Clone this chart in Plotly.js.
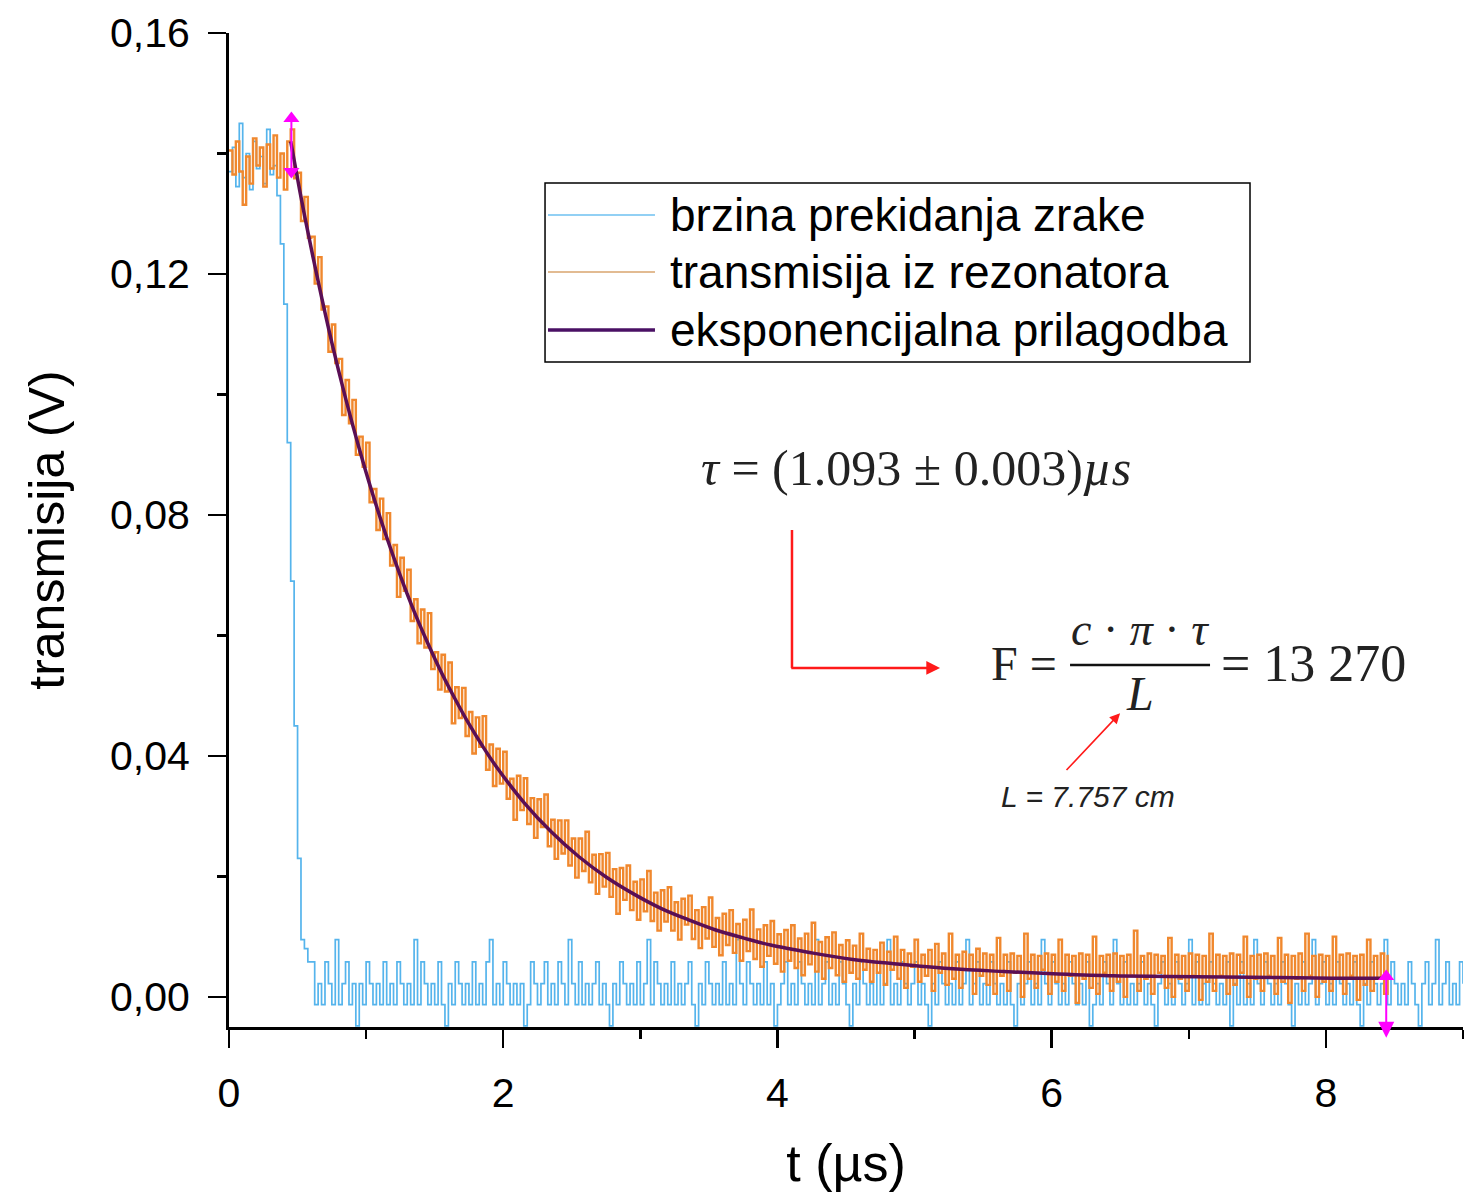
<!DOCTYPE html>
<html>
<head>
<meta charset="utf-8">
<script src="https://cdn.plot.ly/plotly-3.0.1.min.js"></script>
<style>html,body{margin:0;padding:0;background:#fff}#chart{width:1468px;height:1192px}</style>
</head>
<body>
<div id="chart"></div>
<script>
// ---- data ----
const sampleStart = 0;      // µs
const sampleStep = 0.025;   // µs between samples

// blue: brzina prekidanja zrake (V)
const beamCutY = [
0.1370,0.1410,0.1345,0.1450,0.1360,0.1400,0.1340,0.1420,0.1375,0.1395,0.1350,0.1440,0.1365,0.1380,
0.1330,0.1250,0.1150,0.0920,0.0690,0.0450,0.0230,0.0095,0.0080,0.0058,
0.0058,-0.0013,0.0022,-0.0013,0.0058,0.0022,-0.0013,0.0095,-0.0013,0.0022,0.0058,-0.0013,0.0022,-0.0048,0.0022,-0.0013,0.0058,0.0022,-0.0013,0.0022,
-0.0013,0.0058,-0.0013,0.0022,-0.0013,0.0058,0.0022,-0.0013,0.0022,-0.0013,0.0095,-0.0013,0.0058,0.0022,-0.0013,0.0022,-0.0013,0.0058,-0.0013,-0.0048,
0.0022,-0.0013,0.0058,0.0022,-0.0013,0.0022,-0.0013,0.0058,-0.0013,0.0022,-0.0013,0.0058,0.0095,-0.0013,0.0022,-0.0013,0.0058,0.0022,-0.0013,0.0022,
-0.0013,0.0022,-0.0048,-0.0013,0.0058,0.0022,-0.0013,0.0022,0.0058,-0.0013,0.0022,-0.0013,0.0058,0.0022,-0.0013,0.0095,0.0022,-0.0013,0.0058,-0.0013,
0.0022,-0.0013,0.0022,0.0058,-0.0013,0.0022,-0.0013,-0.0048,0.0022,-0.0013,0.0058,0.0022,-0.0013,0.0022,-0.0013,0.0058,-0.0013,0.0022,0.0095,-0.0013,
0.0058,0.0022,-0.0013,0.0022,-0.0013,0.0058,-0.0013,0.0022,-0.0013,0.0022,0.0058,-0.0013,-0.0048,0.0022,-0.0013,0.0058,0.0022,-0.0013,0.0022,-0.0013,
0.0058,-0.0013,0.0022,-0.0013,0.0095,0.0022,-0.0013,0.0058,0.0022,-0.0013,0.0022,-0.0013,0.0058,-0.0013,0.0022,-0.0048,-0.0013,0.0022,0.0058,-0.0013,
0.0022,-0.0013,0.0058,0.0022,-0.0013,0.0022,-0.0013,0.0095,-0.0013,0.0022,0.0058,-0.0013,0.0022,-0.0013,0.0058,0.0022,-0.0013,-0.0048,0.0022,-0.0013,
0.0058,0.0022,-0.0013,0.0022,-0.0013,0.0058,-0.0013,0.0022,0.0095,-0.0013,0.0022,-0.0013,0.0058,0.0022,-0.0013,0.0022,0.0058,-0.0013,0.0022,-0.0013,
-0.0048,0.0022,-0.0013,0.0058,0.0022,-0.0013,0.0022,-0.0013,0.0058,-0.0013,0.0022,0.0095,-0.0013,0.0022,0.0058,-0.0013,0.0022,-0.0013,0.0058,0.0022,
-0.0013,0.0022,-0.0013,0.0058,-0.0013,-0.0048,0.0022,-0.0013,0.0022,0.0058,-0.0013,0.0022,-0.0013,0.0095,0.0022,-0.0013,0.0058,0.0022,-0.0013,0.0022,
-0.0013,0.0058,0.0022,-0.0013,0.0022,-0.0013,0.0058,-0.0048,-0.0013,0.0022,-0.0013,0.0058,0.0022,-0.0013,0.0095,0.0022,-0.0013,0.0058,-0.0013,0.0022,
-0.0013,0.0022,0.0058,-0.0013,0.0022,-0.0013,-0.0048,0.0022,0.0058,-0.0013,0.0022,-0.0013,0.0058,0.0022,-0.0013,0.0022,0.0095,-0.0013,0.0058,-0.0013,
0.0022,-0.0013,0.0058,0.0022,-0.0013,0.0022,-0.0013,0.0058,-0.0048,0.0022,-0.0013,0.0058,-0.0013,0.0022,-0.0013,0.0095,0.0022,-0.0013,0.0058,0.0022,
-0.0013,0.0022,-0.0013,0.0058,0.0022,-0.0013,-0.0048,0.0022,-0.0013,0.0058,-0.0013,0.0022,0.0095,-0.0013,0.0022,0.0058,-0.0013,0.0022,-0.0013,0.0058,
0.0022,-0.0013,0.0022,-0.0013,0.0058,-0.0013,-0.0048,0.0022,-0.0013,0.0058,0.0022,-0.0013,0.0022,0.0095,-0.0013,0.0058,0.0022,-0.0013,0.0022,-0.0013,
0.0058,0.0022,-0.0013,-0.0048,0.0022,0.0058,-0.0013,0.0022,0.0095,-0.0013,0.0022,0.0058,-0.0013,0.0022,-0.0013,0.0058,0.0022
];

// orange: transmisija iz rezonatora (V)
const transmissionY = [
0.1405,0.1365,0.1420,0.1370,0.1315,0.1395,0.1350,0.1425,0.1380,0.1410,0.1345,0.1415,0.1375,0.1430,0.1360,0.1400,0.1340,0.1420,
0.1440,0.1359,0.1368,0.1288,0.1328,0.1260,0.1262,0.1184,0.1228,0.1141,
0.1146,0.1071,0.1116,0.1052,0.1059,0.0966,0.1024,0.0952,0.0991,0.0900,
0.0930,0.0880,0.0920,0.0821,0.0843,0.0775,0.0827,0.0760,0.0803,0.0716,
0.0750,0.0664,0.0729,0.0674,0.0709,0.0624,0.0660,0.0587,0.0643,0.0580,
0.0637,0.0544,0.0572,0.0510,0.0568,0.0507,0.0555,0.0454,0.0514,0.0463,
0.0513,0.0433,0.0473,0.0404,0.0464,0.0415,0.0466,0.0377,0.0419,0.0350,
0.0412,0.0354,0.0407,0.0329,0.0362,0.0294,0.0367,0.0310,0.0363,0.0287,
0.0330,0.0264,0.0328,0.0282,0.0336,0.0250,0.0294,0.0229,0.0293,0.0238,
0.0293,0.0218,0.0263,0.0198,0.0263,0.0209,0.0274,0.0190,0.0236,0.0171,
0.0237,0.0183,0.0239,0.0166,0.0212,0.0138,0.0214,0.0161,0.0218,0.0144,
0.0191,0.0128,0.0195,0.0142,0.0209,0.0126,0.0173,0.0110,0.0177,0.0125,
0.0182,0.0110,0.0157,0.0095,0.0163,0.0120,0.0168,0.0096,0.0144,0.0081,
0.0149,0.0097,0.0165,
0.0083,0.0131,0.0069,0.0138,0.0086,0.0144,0.0073,0.0121,0.0060,0.0128,
0.0076,0.0145,0.0063,0.0112,0.0050,0.0119,0.0068,0.0126,0.0055,0.0104,
0.0042,0.0111,0.0060,0.0119,0.0048,0.0097,0.0036,0.0105,0.0054,0.0123,
0.0042,0.0091,0.0030,0.0099,0.0048,0.0107,0.0036,0.0086,0.0025,0.0094,
0.0040,0.0085,0.0030,0.0105,0.0045,0.0080,0.0025,0.0078,0.0040,0.0090,
0.0020,0.0075,0.0045,0.0100,0.0030,0.0078,0.0015,0.0072,0.0050,0.0095,
0.0025,0.0070,0.0035,0.0078,0.0010,0.0088,0.0040,0.0072,0.0020,0.0105,
0.0030,0.0070,0.0015,0.0075,0.0045,0.0070,0.0005,0.0080,0.0035,0.0072,
0.0020,0.0070,0.0005,0.0098,0.0035,0.0070,0.0010,0.0072,0.0040,0.0068,
0.0000,0.0105,0.0030,0.0070,0.0015,0.0068,0.0045,0.0072,0.0005,0.0070,
0.0025,0.0095,0.0010,0.0070,0.0035,0.0068,-0.0010,0.0072,0.0030,0.0070,
0.0015,0.0100,0.0005,0.0068,0.0040,0.0070,0.0010,0.0072,0.0025,0.0068,
0.0000,0.0070,0.0035,0.0110,0.0010,0.0068,0.0030,0.0072,0.0005,0.0070,
0.0040,0.0068,0.0015,0.0098,0.0000,0.0070,0.0030,0.0068,0.0010,0.0072,
0.0035,0.0070,-0.0005,0.0068,0.0025,0.0105,0.0010,0.0070,0.0035,0.0068,
0.0005,0.0072,0.0020,0.0070,0.0040,0.0100,0.0000,0.0068,0.0030,0.0070,
0.0010,0.0072,0.0035,0.0068,0.0005,0.0098,0.0025,0.0070,-0.0010,0.0068,
0.0030,0.0072,0.0010,0.0105,0.0035,0.0068,0.0000,0.0070,0.0025,0.0068,
0.0010,0.0100,0.0030,0.0070,0.0005,0.0072,0.0035,0.0068,-0.0005,0.0070,
0.0020,0.0095,0.0010,0.0068,0.0030,0.0072,0.0005,0.0070
];

// purple: eksponencijalna prilagodba
const fitX = [0.45,0.5,0.55,0.65,0.75,0.85,0.95,1.05,1.15,1.25,1.35,1.45,1.55,1.65,1.75,1.85,1.95,2.15,2.35,2.55,2.75,2.95,3.15,3.35,3.55,3.75,3.95,4.25,4.55,4.85,5.25,5.65,6.05,6.45,6.85,7.25,7.65,8.05,8.44];
const fitY = [0.1420,0.1358,0.1298,0.1188,0.1086,0.0994,0.0910,0.0833,0.0763,0.0699,0.0640,0.0587,0.0538,0.0494,0.0453,0.0416,0.0382,0.0323,0.0274,0.0233,0.0199,0.0171,0.0147,0.0128,0.0111,0.0098,0.0086,0.0073,0.0062,0.0055,0.0047,0.0042,0.0038,0.0035,0.0034,0.0033,0.0032,0.0031,0.0031];

// fit range markers (magenta)
const rangeStartX = [0.455, 0.455];
const rangeStartY = [0.1370, 0.1458];
const rangeEndX = [8.44];
const rangeEndTopY = [0.0034];
const rangeEndBottomY = -0.0068;

// legend / labels
const seriesNames = ['brzina prekidanja zrake', 'transmisija iz rezonatora', 'eksponencijalna prilagodba'];
const seriesColors = ['#55B4EC', '#F0882E', '#5A0F55'];
const yTickVals = [0, 0.04, 0.08, 0.12, 0.16];
const xTickVals = [0, 2, 4, 6, 8];

// ---- chart ----
const SANS = 'Liberation Sans, Arial, sans-serif';
const SERIF = 'Liberation Serif, Times New Roman, serif';
const MAGENTA = '#FF00FF';

const traces = [
  {type:'scatter', mode:'lines', name:seriesNames[0], x0:sampleStart, dx:sampleStep, y:beamCutY,
   line:{color:seriesColors[0], width:1.7, shape:'hv'}, showlegend:false},
  {type:'scatter', mode:'lines', name:seriesNames[1], x0:sampleStart, dx:sampleStep, y:transmissionY,
   line:{color:seriesColors[1], width:2.4, shape:'hv'}, showlegend:false},
  {type:'scatter', mode:'lines', name:seriesNames[2], x:fitX, y:fitY,
   line:{color:seriesColors[2], width:3.5, shape:'spline'}, showlegend:false},
  {type:'scatter', mode:'lines+markers', x:rangeStartX, y:rangeStartY, cliponaxis:false,
   line:{color:MAGENTA, width:2}, marker:{color:MAGENTA, size:14, symbol:['triangle-down','triangle-up']}, showlegend:false},
  {type:'scatter', mode:'markers', x:rangeEndX, y:rangeEndTopY, cliponaxis:false,
   marker:{color:MAGENTA, size:14, symbol:'triangle-up'}, showlegend:false}
];

// legend geometry (paper coords)
const legRows = [0.8169, 0.7596, 0.7012];
const legLineX = [0.2585, 0.3452];
const legTextX = 0.3558;
const legWidths = [1.4, 1.6, 3.5];
const legLineColors = ['#6EC0F0', '#D8A46E', '#4A1064'];

const shapes = [
  {type:'rect', xref:'paper', yref:'paper', x0:0.2561, x1:0.8274, y0:0.6690, y1:0.8491,
   line:{color:'#000', width:1.5}, fillcolor:'rgba(255,255,255,0)'},
  // red L path vertical part
  {type:'line', xref:'x', yref:'y', x0:4.106, x1:4.106, y0:0.0775, y1:0.0546, line:{color:'#FF1A1A', width:2.5}},
  // fraction bar
  {type:'line', xref:'x', yref:'y', x0:6.134, x1:7.155, y0:0.0551, y1:0.0551, line:{color:'#111', width:2.5}}
];
legRows.forEach((ry, i) => {
  shapes.push({type:'line', xref:'paper', yref:'paper', x0:legLineX[0], x1:legLineX[1], y0:ry, y1:ry,
    line:{color:legLineColors[i], width:legWidths[i]}});
});

const annotations = [];
legRows.forEach((ry, i) => {
  annotations.push({xref:'paper', yref:'paper', x:legTextX, y:ry, xanchor:'left', yanchor:'middle',
    text:seriesNames[i], showarrow:false, font:{family:SANS, size:46, color:'#000'}});
});
annotations.push(
  // end-of-fit-range marker, lower part (drawn below the axis)
  {xref:'x', yref:'y', x:rangeEndX[0], y:rangeEndBottomY, ax:rangeEndX[0], ay:rangeEndTopY[0], axref:'x', ayref:'y',
   text:'', showarrow:true, arrowhead:2, arrowsize:1.6, arrowwidth:2, arrowcolor:MAGENTA},
  {xref:'x', yref:'y', x:5.011, y:0.0878, text:'<i>τ</i> = (1.093 ± 0.003)<i>µs</i>', showarrow:false,
   font:{family:SERIF, size:50, color:'#222'}},
  {xref:'x', yref:'y', x:5.186, y:0.0546, ax:4.09, ay:0.0546, axref:'x', ayref:'y', text:'', showarrow:true,
   arrowhead:2, arrowsize:1.1, arrowwidth:2.5, arrowcolor:'#FF1A1A'},
  {xref:'x', yref:'y', x:5.799, y:0.0553, text:'F =', showarrow:false, font:{family:SERIF, size:48, color:'#222'}},
  {xref:'x', yref:'y', x:6.645, y:0.0610, text:'<i>c</i> · <i>π</i> · <i>τ</i>', showarrow:false, font:{family:SERIF, size:46, color:'#222'}},
  {xref:'x', yref:'y', x:6.645, y:0.0503, text:'<i>L</i>', showarrow:false, font:{family:SERIF, size:48, color:'#222'}},
  {xref:'x', yref:'y', x:7.907, y:0.0553, text:'= 13 270', showarrow:false, font:{family:SERIF, size:52, color:'#222'}},
  {xref:'x', yref:'y', x:6.499, y:0.0471, ax:6.098, ay:0.0374, axref:'x', ayref:'y', text:'', showarrow:true,
   arrowhead:2, arrowsize:1.3, arrowwidth:1.6, arrowcolor:'#FF1A1A'},
  {xref:'x', yref:'y', x:6.266, y:0.0332, text:'<i>L = 7.757 cm</i>', showarrow:false, font:{family:SANS, size:30, color:'#222'}}
);

const axisCommon = {
  showgrid:false, zeroline:false, showline:true, linecolor:'#000', linewidth:3,
  ticks:'outside', ticklen:18, tickwidth:2.5, tickcolor:'#000', ticklabelstandoff:10,
  tickfont:{family:SANS, size:41, color:'#000'}, mirror:false
};

const layout = {
  width:1468, height:1192,
  margin:{l:229, r:5, t:33, b:165},
  paper_bgcolor:'#fff', plot_bgcolor:'#fff',
  separators:',.',
  showlegend:false,
  xaxis:Object.assign({}, axisCommon, {
    range:[0, 9], tickvals:xTickVals, tickformat:'d',
    minor:{dtick:1, tick0:0, ticks:'outside', ticklen:9, tickwidth:2.5, tickcolor:'#000'},
    title:{text:'t (µs)', font:{family:SANS, size:52, color:'#000'}, standoff:30}
  }),
  yaxis:Object.assign({}, axisCommon, {
    range:[-0.005, 0.16], tickvals:yTickVals, tickformat:'.2f',
    minor:{dtick:0.02, tick0:0, ticks:'outside', ticklen:9, tickwidth:2.5, tickcolor:'#000'},
    title:{text:'transmisija (V)', font:{family:SANS, size:50, color:'#000'}, standoff:30}
  }),
  shapes:shapes,
  annotations:annotations
};

Plotly.newPlot('chart', traces, layout, {displayModeBar:false, staticPlot:true});
</script>
</body>
</html>
